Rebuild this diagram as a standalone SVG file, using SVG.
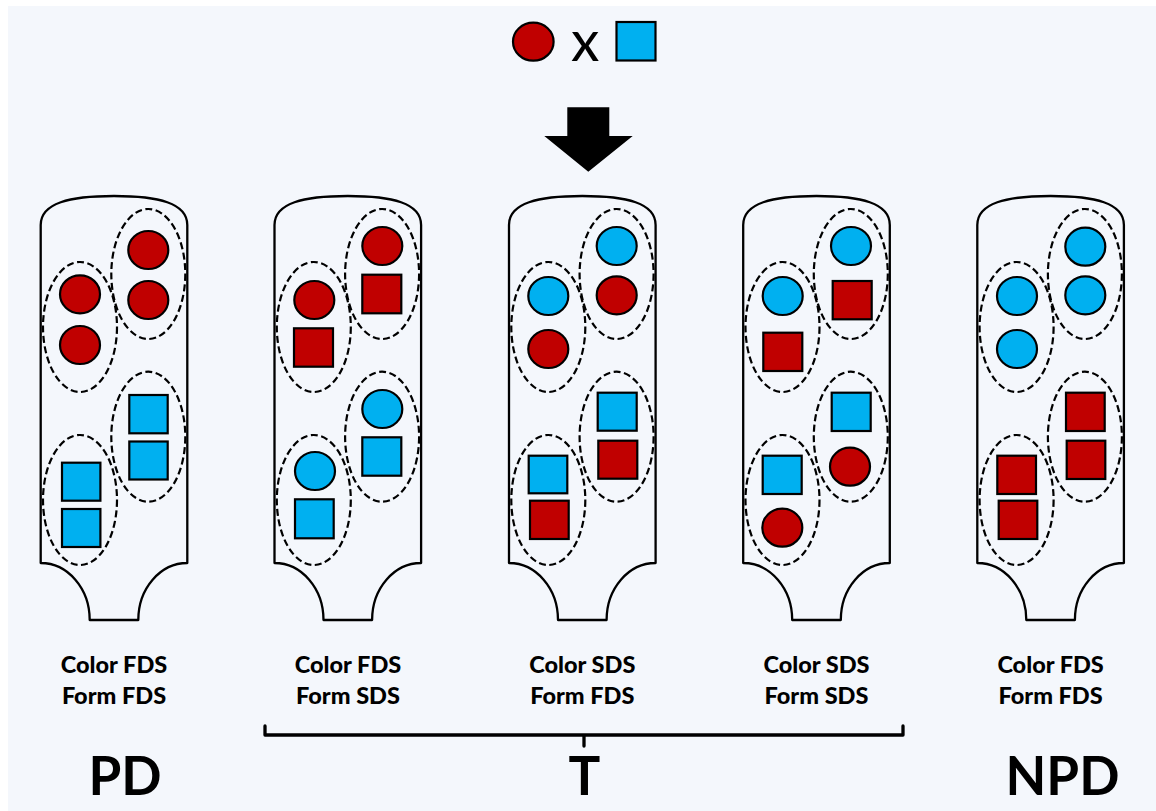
<svg xmlns="http://www.w3.org/2000/svg" width="1156" height="811" viewBox="0 0 1156 811">
<style>
.bg{fill:#f4f7fc}
.tube{fill:#f4f7fc;stroke:#000;stroke-width:2.3;stroke-linejoin:round}
.grp{fill:none;stroke:#000;stroke-width:2.2;stroke-dasharray:7,3.5}
.r{fill:#c00000;stroke:#000;stroke-width:2.2}
.b{fill:#00b0f0;stroke:#000;stroke-width:2.2}
.lbl{font-family:Lato,"Liberation Sans",sans-serif;font-weight:900;font-size:23.5px;fill:#000;text-anchor:middle}
.big{font-family:Lato,"Liberation Sans",sans-serif;font-weight:bold;font-size:53px;fill:#000;text-anchor:middle}
</style>
<defs>
<path id="tubeShape" d="M0,225 C0,203 29,196 73.3,196 C117.6,196 146.6,203 146.6,225 V563 A49,57 0 0 0 97.6,620 H49 A49,57 0 0 0 0,563 Z"/>
<g id="rings">
<ellipse class="grp" cx="39.3" cy="327" rx="37" ry="65"/>
<ellipse class="grp" cx="107.6" cy="274" rx="37" ry="65"/>
<ellipse class="grp" cx="107.6" cy="436.7" rx="37" ry="65"/>
<ellipse class="grp" cx="39.3" cy="500" rx="37" ry="65"/>
</g>
</defs>
<rect class="bg" x="8" y="6" width="1148" height="805"/>

<g id="legend">
<ellipse class="r" cx="533.3" cy="41.7" rx="20.3" ry="19"/>
<text x="585.3" y="60.7" font-family="Lato,'Liberation Sans',sans-serif" font-size="57" text-anchor="middle" fill="#000">x</text>
<rect class="b" x="616.5" y="22" width="39" height="38.5"/>
</g>
<g id="arrow">
<polygon points="567.3,107.3 609.3,107.3 609.3,136 632.7,136 588.3,171.7 544.3,136 567.3,136" fill="#000"/>
</g>

<g id="tube1">
<use href="#tubeShape" class="tube" x="40.7"/>
<use href="#rings" x="40.7"/>
<ellipse class="r" cx="80" cy="294.3" rx="20" ry="19"/>
<ellipse class="r" cx="80" cy="345" rx="20" ry="19"/>
<ellipse class="r" cx="148.3" cy="250" rx="20" ry="19"/>
<ellipse class="r" cx="148.3" cy="300" rx="20" ry="19"/>
<rect class="b" x="129.3" y="395" width="38.4" height="38.3"/>
<rect class="b" x="129.3" y="441.5" width="38.4" height="38"/>
<rect class="b" x="62" y="462.7" width="38.4" height="38"/>
<rect class="b" x="62" y="509" width="38.4" height="38"/>
<text class="lbl" x="114" y="673">Color FDS</text>
<text class="lbl" x="114" y="704">Form FDS</text>
</g>

<g id="tube2">
<use href="#tubeShape" class="tube" x="274.5"/>
<use href="#rings" x="274.5"/>
<ellipse class="r" cx="314.3" cy="300" rx="20" ry="19"/>
<rect class="r" x="294" y="328.3" width="39" height="38.4"/>
<ellipse class="r" cx="382.3" cy="246" rx="20" ry="19"/>
<rect class="r" x="362.3" y="274.7" width="39" height="38.6"/>
<ellipse class="b" cx="382.3" cy="409" rx="20" ry="19"/>
<rect class="b" x="362.3" y="437.3" width="39" height="38.4"/>
<ellipse class="b" cx="315" cy="471" rx="20" ry="19"/>
<rect class="b" x="295" y="499.3" width="38.7" height="39"/>
<text class="lbl" x="348" y="673">Color FDS</text>
<text class="lbl" x="348" y="704">Form SDS</text>
</g>

<g id="tube3">
<use href="#tubeShape" class="tube" x="509"/>
<use href="#rings" x="509"/>
<ellipse class="b" cx="548.3" cy="296" rx="20" ry="19"/>
<ellipse class="r" cx="548.3" cy="349" rx="20" ry="19"/>
<ellipse class="b" cx="616.7" cy="246" rx="20" ry="19"/>
<ellipse class="r" cx="616.7" cy="295.3" rx="20" ry="19"/>
<rect class="b" x="597.7" y="392.7" width="39" height="38"/>
<rect class="r" x="598.3" y="440.7" width="39" height="38"/>
<rect class="b" x="528.7" y="455.7" width="38.6" height="37.6"/>
<rect class="r" x="530" y="500.7" width="38.7" height="38.3"/>
<text class="lbl" x="582.3" y="673">Color SDS</text>
<text class="lbl" x="582.3" y="704">Form FDS</text>
</g>

<g id="tube4">
<use href="#tubeShape" class="tube" x="743.2"/>
<use href="#rings" x="743.2"/>
<ellipse class="b" cx="782.7" cy="296" rx="20" ry="19"/>
<rect class="r" x="763.3" y="332.7" width="39" height="38.3"/>
<ellipse class="b" cx="851" cy="246" rx="20" ry="19"/>
<rect class="r" x="832.7" y="281" width="39" height="38.3"/>
<rect class="b" x="831.7" y="392.7" width="39" height="38.3"/>
<ellipse class="r" cx="850" cy="466.7" rx="20" ry="19"/>
<rect class="b" x="762.7" y="455.7" width="39" height="38.3"/>
<ellipse class="r" cx="782.3" cy="527.7" rx="20" ry="19"/>
<text class="lbl" x="816.5" y="673">Color SDS</text>
<text class="lbl" x="816.5" y="704">Form SDS</text>
</g>

<g id="tube5">
<use href="#tubeShape" class="tube" x="977.3"/>
<use href="#rings" x="977.3"/>
<ellipse class="b" cx="1017" cy="296" rx="20" ry="19"/>
<ellipse class="b" cx="1017" cy="349" rx="20" ry="19"/>
<ellipse class="b" cx="1085.3" cy="246.7" rx="20" ry="19"/>
<ellipse class="b" cx="1085.3" cy="295.3" rx="20" ry="19"/>
<rect class="r" x="1066" y="392.7" width="38.7" height="38.3"/>
<rect class="r" x="1066.7" y="440.7" width="38.6" height="38.3"/>
<rect class="r" x="997.3" y="455.7" width="38.7" height="38.3"/>
<rect class="r" x="998.7" y="500.7" width="38.6" height="38.3"/>
<text class="lbl" x="1050.6" y="673">Color FDS</text>
<text class="lbl" x="1050.6" y="704">Form FDS</text>
</g>

<g id="connectors">
<path d="M265,726 V735 H903 V726 M584,735 V746" fill="none" stroke="#000" stroke-width="3.3" stroke-linecap="round" stroke-linejoin="round"/>
</g>

<g id="labels">
<text class="big" x="125" y="795">PD</text>
<text class="big" x="584.5" y="795">T</text>
<text class="big" x="1062.5" y="795">NPD</text>
</g>
</svg>
